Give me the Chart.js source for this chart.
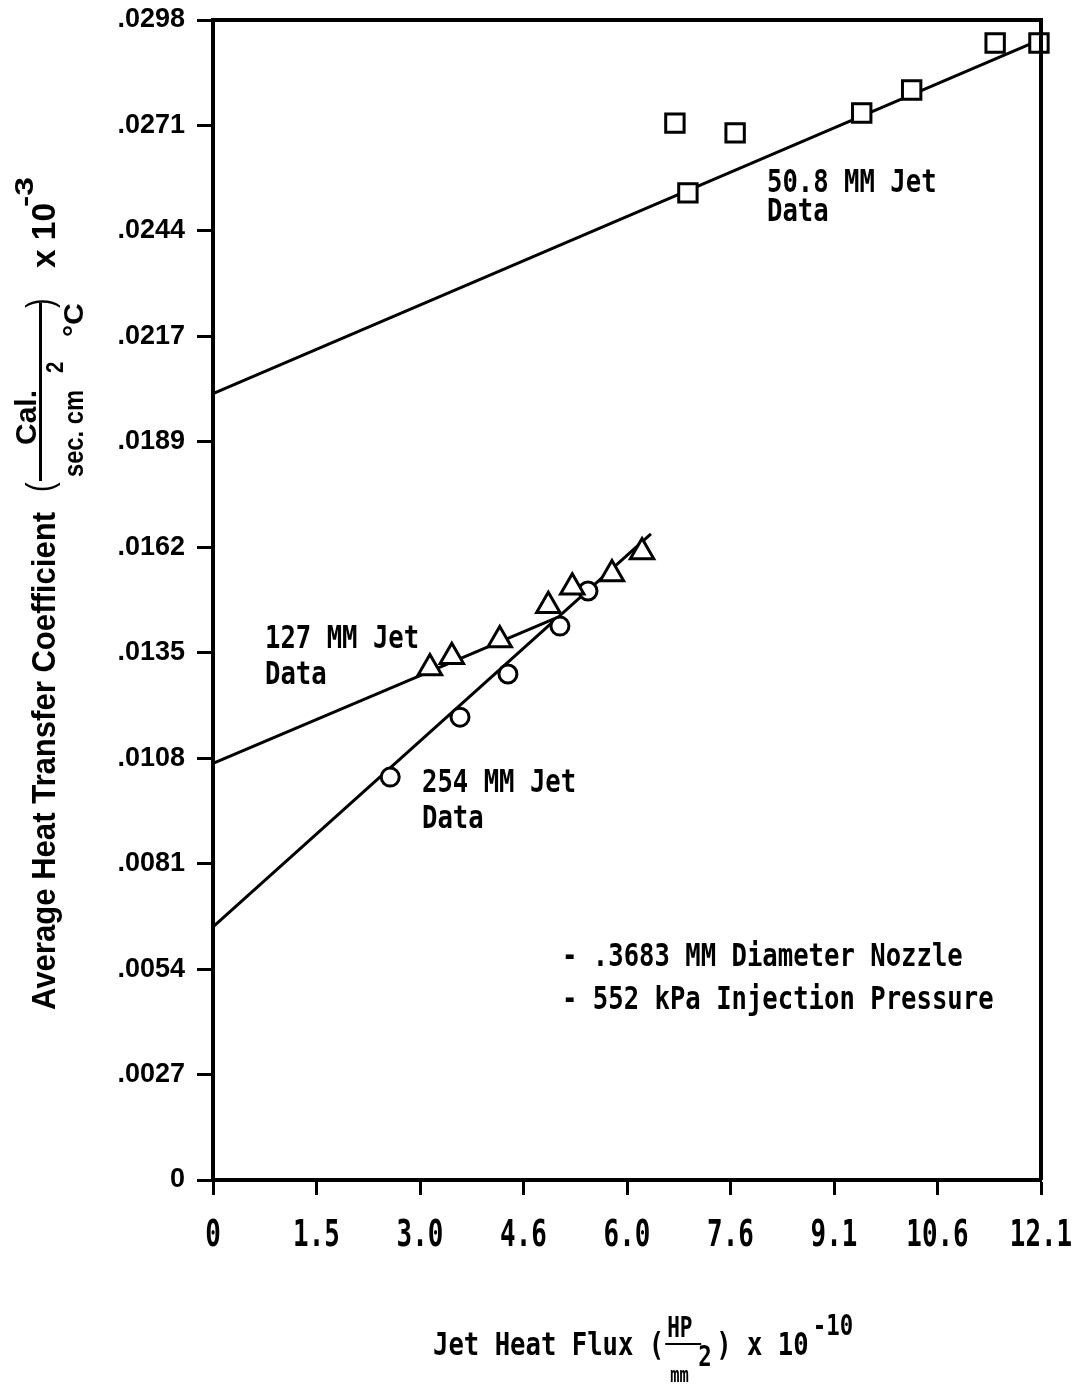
<!DOCTYPE html>
<html>
<head>
<meta charset="utf-8">
<script src="https://cdn.jsdelivr.net/npm/chart.js@4"></script>
<style>
  body { margin: 0; background: #fff; }
  canvas { display: block; }
</style>
</head>
<body>
<canvas id="heatChart" width="1084" height="1384"></canvas>
<script>
// axis ranges and tick labels (ticks are evenly spaced, labels rounded as printed)
const xMax = 12.1;
const yMax = 0.0298;
const xTickLabels = ["0", "1.5", "3.0", "4.6", "6.0", "7.6", "9.1", "10.6", "12.1"];
const yTickLabels = ["0", ".0027", ".0054", ".0081", ".0108", ".0135", ".0162", ".0189", ".0217", ".0244", ".0271", ".0298"];

// 50.8 MM jet data (squares)
const jet508X = [6.75, 6.94, 7.63, 9.48, 10.21, 11.43, 12.07];
const jet508Y = [0.02715, 0.02536, 0.02690, 0.02741, 0.02800, 0.02921, 0.02921];
// 127 MM jet data (triangles)
const jet127X = [3.17, 3.49, 4.19, 4.90, 5.25, 5.83, 6.27];
const jet127Y = [0.01315, 0.01344, 0.01387, 0.01475, 0.01523, 0.01557, 0.01613];
// 254 MM jet data (circles)
const jet254X = [2.59, 3.61, 4.31, 5.07, 5.48];
const jet254Y = [0.01035, 0.01189, 0.01300, 0.01423, 0.01513];

// fitted lines
const fit508X = [0, 12.1];
const fit508Y = [0.0202, 0.0293];
const fit127X = [0, 5.0];
const fit127Y = [0.0107, 0.01443];
const fit254X = [0, 6.4];
const fit254Y = [0.0065, 0.0166];

const toPts = (xs, ys) => xs.map((x, i) => ({ x: x, y: ys[i] }));

const MONO = '"DejaVu Sans Mono", "Liberation Mono", monospace';
const SANS = '"Liberation Sans", "DejaVu Sans", sans-serif';

// draws text, optionally squeezed horizontally and/or rotated to read upward
function txt(ctx, s, x, y, font, sx, rot, len) {
  ctx.save();
  ctx.font = font;
  if (len) sx = len / ctx.measureText(s).width;
  ctx.translate(x, y);
  if (rot) ctx.rotate(-Math.PI / 2);
  ctx.scale(sx || 1, 1);
  ctx.textAlign = "left";
  ctx.textBaseline = "alphabetic";
  ctx.fillStyle = "#000";
  ctx.fillText(s, 0, 0);
  const w = ctx.measureText(s).width * (sx || 1);
  ctx.restore();
  return w;
}

const decorations = {
  id: "decorations",
  afterDraw(chart) {
    const ctx = chart.ctx;
    const a = chart.chartArea;
    const sx = 0.8;
    const f32 = "bold 32px " + MONO;

    // top and right frame
    ctx.save();
    ctx.strokeStyle = "#000";
    ctx.lineWidth = 4;
    ctx.beginPath();
    ctx.moveTo(a.left - 2, a.top);
    ctx.lineTo(a.right, a.top);
    ctx.lineTo(a.right, a.bottom);
    ctx.stroke();
    ctx.restore();

    // x tick labels, condensed typewriter style
    const xs = chart.scales.x;
    const fx = "bold 37px " + MONO;
    xs.ticks.forEach((t, i) => {
      ctx.save();
      ctx.font = fx;
      const w = ctx.measureText(t.label).width * 0.7;
      ctx.restore();
      txt(ctx, t.label, xs.getPixelForTick(i) - w / 2, 1246, fx, 0.7);
    });

    // annotations
    txt(ctx, "50.8 MM Jet", 767, 192, f32, sx);
    txt(ctx, "Data", 767, 221, f32, sx);
    txt(ctx, "127 MM Jet", 265, 648, f32, sx);
    txt(ctx, "Data", 265, 684, f32, sx);
    txt(ctx, "254 MM Jet", 422, 792, f32, sx);
    txt(ctx, "Data", 422, 828, f32, sx);
    txt(ctx, "- .3683 MM Diameter Nozzle", 562, 966, f32, sx);
    txt(ctx, "- 552 kPa Injection Pressure", 562, 1009, f32, sx);

    // x axis title
    let x = 433;
    x += txt(ctx, "Jet Heat Flux (", x, 1355, f32, sx);
    txt(ctx, "HP", x + 3, 1337, "bold 28px " + MONO, 0.75);
    ctx.save();
    ctx.fillStyle = "#000";
    ctx.fillRect(x + 1, 1343, 36, 2);
    ctx.restore();
    txt(ctx, "mm", x + 6, 1382, "bold 22px " + MONO, 0.7);
    txt(ctx, "2", x + 34, 1366, "bold 28px " + MONO, sx);
    x += 52;
    x += txt(ctx, ") x 10", x, 1355, f32, sx);
    txt(ctx, "-10", x + 4, 1335, "bold 28px " + MONO, sx);

    // y axis title (rotated, reading upward)
    const f34 = "bold 34px " + SANS;
    txt(ctx, "Average Heat Transfer Coefficient", 55, 1010, f34, 0, true, 498);
    txt(ctx, "(", 52, 492, "36px " + SANS, 0.8, true);
    ctx.save();
    ctx.fillStyle = "#000";
    ctx.fillRect(39, 303, 3, 178);
    ctx.restore();
    txt(ctx, "Cal.", 36, 445, "bold 30px " + SANS, 0, true, 55);
    txt(ctx, "sec. cm", 83, 477, "bold 28px " + SANS, 0, true, 87);
    txt(ctx, "2", 63, 373, "bold 24px " + SANS, 0.85, true);
    txt(ctx, "\u00B0C", 83, 337, "bold 28px " + SANS, 0, true, 34);
    txt(ctx, ")", 52, 308, "36px " + SANS, 0.8, true);
    txt(ctx, "x 10", 55, 268, f34, 0, true, 65);
    txt(ctx, "-3", 33, 207, "bold 26px " + SANS, 0, true, 30);
  }
};

const markerBase = {
  showLine: false,
  pointBackgroundColor: "#fff",
  pointBorderColor: "#000",
  pointBorderWidth: 3,
  clip: false,
  order: 0
};
const lineBase = {
  showLine: true,
  pointRadius: 0,
  borderColor: "#000",
  borderWidth: 3,
  clip: false,
  order: 1
};

new Chart(document.getElementById("heatChart"), {
  type: "scatter",
  data: {
    datasets: [
      Object.assign({ label: "50.8 MM Jet Data", data: toPts(jet508X, jet508Y), pointStyle: "rect", pointRadius: 13 }, markerBase),
      Object.assign({ label: "127 MM Jet Data", data: toPts(jet127X, jet127Y), pointStyle: "triangle", pointRadius: 13.5 }, markerBase),
      Object.assign({ label: "254 MM Jet Data", data: toPts(jet254X, jet254Y), pointStyle: "circle", pointRadius: 9 }, markerBase),
      Object.assign({ label: "50.8 fit", data: toPts(fit508X, fit508Y) }, lineBase),
      Object.assign({ label: "127 fit", data: toPts(fit127X, fit127Y) }, lineBase),
      Object.assign({ label: "254 fit", data: toPts(fit254X, fit254Y) }, lineBase)
    ]
  },
  options: {
    responsive: false,
    animation: false,
    layout: { padding: { left: 0, top: 20, right: 43, bottom: 0 } },
    plugins: { legend: { display: false }, tooltip: { enabled: false } },
    scales: {
      x: {
        type: "linear",
        min: 0,
        max: xMax,
        afterBuildTicks: s => { s.ticks = xTickLabels.map((_, i) => ({ value: xMax * i / (xTickLabels.length - 1) })); },
        afterFit: s => { s.height = 204; s.paddingLeft = 0; s.paddingRight = 0; },
        ticks: { callback: (v, i) => xTickLabels[i], color: "rgba(0,0,0,0)", font: { size: 20 } },
        grid: { drawOnChartArea: false, drawTicks: true, tickLength: 15, tickWidth: 3, tickColor: "#000" },
        border: { color: "#000", width: 4 }
      },
      y: {
        type: "linear",
        min: 0,
        max: yMax,
        afterBuildTicks: s => { s.ticks = yTickLabels.map((_, i) => ({ value: yMax * i / (yTickLabels.length - 1) })); },
        afterFit: s => { s.width = 213; s.paddingTop = 0; s.paddingBottom = 0; },
        ticks: { callback: (v, i) => yTickLabels[i], color: "#000", font: { family: SANS, size: 27, weight: "bold" }, padding: 12 },
        grid: { drawOnChartArea: false, drawTicks: true, tickLength: 16, tickWidth: 3, tickColor: "#000" },
        border: { color: "#000", width: 4 }
      }
    }
  },
  plugins: [decorations]
});
</script>
</body>
</html>
